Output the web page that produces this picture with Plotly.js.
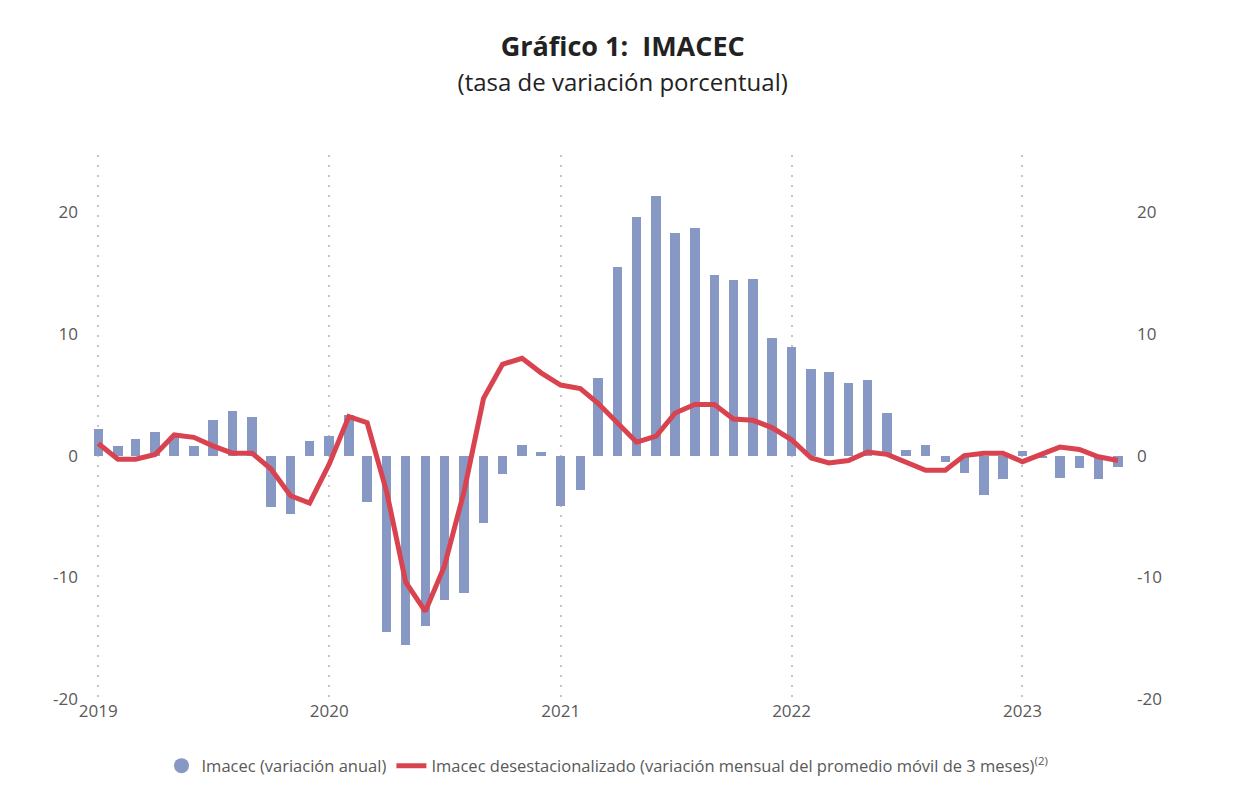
<!DOCTYPE html>
<html>
<head>
<meta charset="utf-8">
<script src="https://cdn.plot.ly/plotly-3.0.1.min.js"></script>
<style>
  html, body { margin: 0; padding: 0; background: #fff; }
  #chart { width: 1238px; height: 795px; }
</style>
</head>
<body>
<div id="chart"></div>
<script>
// Months Jan 2019 - Jun 2023
const months = [];
for (let y = 2019; y <= 2023; y++) {
  for (let m = 1; m <= 12; m++) {
    if (y === 2023 && m > 6) break;
    months.push(`${y}-${m < 10 ? '0' + m : m}-01`);
  }
}

// Imacec (variación anual)
const imacecAnual = [
  2.2, 0.8, 1.4, 1.9, 1.6, 0.8, 2.9, 3.7, 3.2, -4.2, -4.8, 1.2,
  1.6, 3.3, -3.8, -14.5, -15.6, -14.0, -11.9, -11.3, -5.5, -1.5, 0.9, 0.3,
  -4.1, -2.8, 6.4, 15.5, 19.6, 21.3, 18.3, 18.7, 14.8, 14.4, 14.5, 9.7,
  8.9, 7.1, 6.9, 6.0, 6.2, 3.5, 0.5, 0.9, -0.5, -1.4, -3.2, -1.9,
  0.4, -0.2, -1.8, -1.0, -1.9, -0.9,
];

// Imacec desestacionalizado (variación mensual promedio móvil 3 meses)
const imacecDesest = [
  1.0, -0.3, -0.3, 0.1, 1.7, 1.5, 0.8, 0.2, 0.2, -1.1, -3.3, -3.9,
  -0.7, 3.2, 2.7, -3.0, -10.4, -12.8, -9.1, -3.0, 4.7, 7.5, 8.0, 6.8,
  5.8, 5.5, 4.3, 2.6, 1.1, 1.6, 3.5, 4.2, 4.2, 3.0, 2.9, 2.3,
  1.3, -0.2, -0.6, -0.4, 0.3, 0.1, -0.5, -1.2, -1.2, 0.0, 0.2, 0.2,
  -0.5, 0.1, 0.7, 0.5, -0.1, -0.4,
];

const yTickVals = [-20, -10, 0, 10, 20];
const yTickText = ['-20', '-10', '0', '10', '20'];

const barColor = '#8898c4';
const lineColor = '#d8434f';
const fontFamily = '"Open Sans", "Noto Sans", sans-serif';

const data = [
  {
    type: 'bar',
    x: months,
    y: imacecAnual,
    width: 15 * 86400000,
    marker: { color: barColor },
    name: 'Imacec (variación anual)',
    showlegend: false,
    hoverinfo: 'x+y',
  },
  // legend entry with round symbol for the bars
  {
    type: 'scatter',
    mode: 'markers',
    x: [null],
    y: [null],
    marker: { color: barColor, size: 15, symbol: 'circle' },
    name: 'Imacec (variación anual)',
  },
  {
    type: 'scatter',
    mode: 'lines',
    x: months,
    y: imacecDesest,
    yaxis: 'y2',
    line: { color: lineColor, width: 5 },
    name: 'Imacec desestacionalizado (variación mensual del promedio móvil de 3 meses)<sup>(2)</sup>',
  },
];

const yRange = [-20, 24.7];

const layout = {
  width: 1238,
  height: 795,
  paper_bgcolor: '#ffffff',
  plot_bgcolor: '#ffffff',
  font: { family: fontFamily, color: '#595959', size: 17 },
  title: {
    text: '<b>Gráfico 1:  IMACEC</b><br><span style="font-size:24px">(tasa de variación porcentual)</span>',
    x: 0.503,
    xref: 'container',
    y: 0.93,
    yref: 'container',
    yanchor: 'top',
    font: { family: fontFamily, size: 27, color: '#222222' },
  },
  margin: { l: 85, r: 108, t: 155, b: 93 },
  bargap: 0,
  xaxis: {
    type: 'date',
    range: ['2018-12-11', '2023-06-20'],
    tick0: '2019-01-01',
    dtick: 'M12',
    tickformat: '%Y',
    showgrid: true,
    gridcolor: '#c4c4c4',
    griddash: '2px,8px',
    gridwidth: 2,
    zeroline: false,
    showline: false,
    ticks: '',
    tickfont: { size: 17, color: '#595959' },
  },
  yaxis: {
    range: yRange,
    tickvals: yTickVals,
    ticktext: yTickText,
    showgrid: false,
    zeroline: false,
    showline: false,
    ticks: '',
    ticklabelstandoff: 6,
    tickfont: { size: 17, color: '#595959' },
  },
  yaxis2: {
    range: yRange,
    overlaying: 'y',
    side: 'right',
    tickvals: yTickVals,
    ticktext: yTickText,
    showgrid: false,
    zeroline: false,
    showline: false,
    ticks: '',
    ticklabelstandoff: 6,
    tickfont: { size: 17, color: '#595959' },
  },
  legend: {
    orientation: 'h',
    x: 0.5,
    xanchor: 'center',
    y: -0.123,
    yanchor: 'middle',
    font: { size: 16.5, color: '#595959' },
    itemwidth: 30,
    tracegroupgap: 0,
  },
  showlegend: true,
};

Plotly.newPlot('chart', data, layout, { displayModeBar: false, staticPlot: true });
</script>
</body>
</html>
